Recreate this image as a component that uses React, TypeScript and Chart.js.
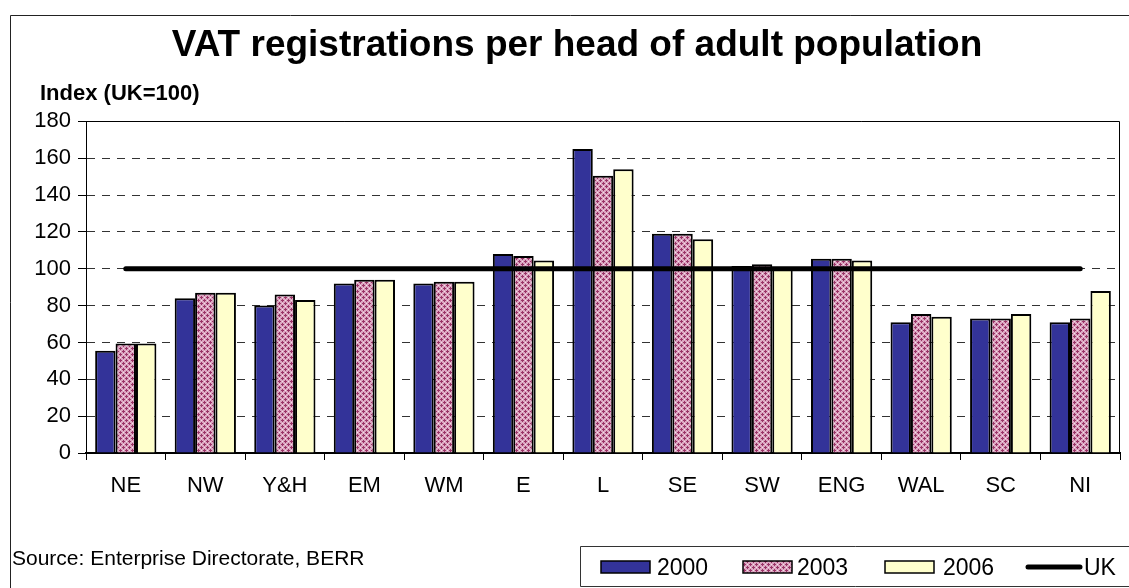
import { useEffect, useRef } from 'react';
import { Chart, registerables } from 'chart.js';

Chart.register(...registerables);

const FONT = "'Liberation Sans', Arial, Helvetica, sans-serif";

const chartTitle = 'VAT registrations per head of adult population';
const axisLabel = 'Index (UK=100)';
const sourceText = 'Source: Enterprise Directorate, BERR';

const categories = ['NE', 'NW', 'Y&H', 'EM', 'WM', 'E', 'L', 'SE', 'SW', 'ENG', 'WAL', 'SC', 'NI'];
const values2000 = [55.5, 84, 80, 92, 92, 108, 165, 119, 101.5, 105.5, 71, 73, 71];
const values2003 = [59.5, 87, 86, 94, 93, 107, 150.5, 119, 102.5, 105.5, 75.5, 73, 73];
const values2006 = [59.5, 87, 83, 94, 93, 104.5, 154, 116, 100, 104.5, 74, 75.5, 88];
const valuesUK = [100, 100, 100, 100, 100, 100, 100, 100, 100, 100, 100, 100, 100];
const seriesLabels = ['2000', '2003', '2006', 'UK'];
const yTickValues = [0, 20, 40, 60, 80, 100, 120, 140, 160, 180];

const COLOR_2000 = '#333399';
const COLOR_2006 = '#FFFFCC';

function makePattern(): CanvasPattern | string {
  const c = document.createElement('canvas');
  c.width = 6;
  c.height = 6;
  const g = c.getContext('2d');
  if (!g) return '#c47aa0';
  g.fillStyle = '#dca6c1';
  g.fillRect(0, 0, 6, 6);
  g.fillStyle = '#f4e2eb';
  g.fillRect(0, 3, 1, 1);
  g.fillRect(3, 0, 1, 1);
  g.fillStyle = '#993366';
  g.fillRect(2, 3, 3, 1);
  g.fillRect(3, 2, 1, 3);
  g.fillRect(0, 0, 1, 1);
  g.fillRect(5, 0, 1, 1);
  g.fillRect(1, 0, 1, 1);
  g.fillRect(0, 5, 1, 1);
  g.fillRect(0, 1, 1, 1);
  return g.createPattern(c, 'repeat') || '#c47aa0';
}

export default function App() {
  const ref = useRef<HTMLCanvasElement | null>(null);

  useEffect(() => {
    const canvas = ref.current;
    if (!canvas) return;
    const pattern = makePattern();
    const fills: any[] = [COLOR_2000, pattern, COLOR_2006];

    const decorPlugin = {
      id: 'decor',
      beforeDatasetsDraw(chart: any) {
        const { ctx, chartArea } = chart;
        const { left, right, top, bottom } = chartArea;
        ctx.save();
        ctx.strokeStyle = '#000';
        ctx.lineWidth = 1;
        ctx.setLineDash([]);
        ctx.beginPath();
        const ty = Math.round(top) + 0.5;
        const rx = Math.round(right) - 0.5;
        ctx.moveTo(left, ty);
        ctx.lineTo(rx, ty);
        ctx.moveTo(rx, ty);
        ctx.lineTo(rx, bottom);
        ctx.stroke();
        ctx.restore();
      },
      afterDraw(chart: any) {
        const ctx = chart.ctx as CanvasRenderingContext2D;
        ctx.save();
        // outer frame
        ctx.strokeStyle = '#222';
        ctx.lineWidth = 1;
        ctx.beginPath();
        ctx.moveTo(10.5, 700);
        ctx.lineTo(10.5, 15.5);
        ctx.lineTo(1200, 15.5);
        ctx.stroke();

        // axis label
        ctx.fillStyle = '#000';
        ctx.textAlign = 'left';
        ctx.textBaseline = 'alphabetic';
        ctx.font = `bold 22px ${FONT}`;
        ctx.fillText(axisLabel, 40, 100);

        // source
        ctx.font = `21px ${FONT}`;
        ctx.fillText(sourceText, 12, 565);

        // legend box
        ctx.strokeStyle = '#333';
        ctx.lineWidth = 1;
        ctx.beginPath();
        ctx.moveTo(1200, 546.5);
        ctx.lineTo(580.5, 546.5);
        ctx.lineTo(580.5, 586.5);
        ctx.lineTo(1200, 586.5);
        ctx.stroke();

        const swatchX = [601, 743, 885];
        const textX = [657, 797, 943, 1084];
        ctx.font = `23px ${FONT}`;
        for (let i = 0; i < 3; i++) {
          ctx.fillStyle = fills[i];
          ctx.fillRect(swatchX[i], 561, 49, 12);
          ctx.strokeStyle = '#000';
          ctx.lineWidth = 1.5;
          ctx.strokeRect(swatchX[i], 561, 49, 12);
          ctx.fillStyle = '#000';
          ctx.fillText(seriesLabels[i], textX[i], 575);
        }
        ctx.strokeStyle = '#000';
        ctx.lineWidth = 5;
        ctx.lineCap = 'round';
        ctx.beginPath();
        ctx.moveTo(1028, 567);
        ctx.lineTo(1080, 567);
        ctx.stroke();
        ctx.fillStyle = '#000';
        ctx.fillText(seriesLabels[3], textX[3], 575);
        ctx.restore();
      },
    };

    const barCommon = {
      borderColor: '#000',
      borderWidth: 2,
      categoryPercentage: 0.77,
      barPercentage: 1.0,
      order: 1,
    };

    const chart = new Chart(canvas, {
      type: 'bar',
      data: {
        labels: categories,
        datasets: [
          { ...barCommon, label: seriesLabels[0], data: values2000, backgroundColor: COLOR_2000 } as any,
          { ...barCommon, label: seriesLabels[1], data: values2003, backgroundColor: pattern } as any,
          { ...barCommon, label: seriesLabels[2], data: values2006, backgroundColor: COLOR_2006 } as any,
          {
            type: 'line',
            label: seriesLabels[3],
            data: valuesUK,
            borderColor: '#000',
            backgroundColor: '#000',
            borderWidth: 5,
            pointRadius: 0,
            borderCapStyle: 'round',
            fill: false,
            order: 0,
          } as any,
        ],
      },
      options: {
        responsive: false,
        animation: false,
        devicePixelRatio: 1,
        layout: { padding: { left: 34, right: 9, top: 0, bottom: 85 } },
        font: { family: FONT },
        plugins: {
          legend: { display: false },
          tooltip: { enabled: false },
          title: {
            display: true,
            text: chartTitle,
            color: '#000',
            font: { family: FONT, size: 37, weight: 'bold' },
            padding: { top: 24, bottom: 53 },
          },
        },
        scales: {
          x: {
            type: 'category',
            offset: true,
            grid: {
              display: true,
              drawOnChartArea: false,
              drawTicks: true,
              tickLength: 7,
              tickColor: '#000',
              tickWidth: 1,
              offset: true,
            },
            border: { display: true, color: '#000', width: 2 },
            ticks: {
              color: '#000',
              font: { family: FONT, size: 22 },
              padding: 13,
              maxRotation: 0,
              autoSkip: false,
            },
            afterFit: (scale: any) => {
              scale.height = 50;
            },
          },
          y: {
            min: 0,
            max: 180,
            grid: {
              color: '#333',
              lineWidth: 1,
              drawTicks: true,
              tickLength: 8,
              tickColor: '#000',
              tickWidth: 1,
              tickBorderDash: [],
            },
            border: { display: true, color: '#000', width: 1, dash: [8, 7] },
            ticks: {
              color: '#000',
              font: { family: FONT, size: 22 },
              padding: 7,
              stepSize: 20,
            },
            afterBuildTicks: (scale: any) => {
              scale.ticks = yTickValues.map((v) => ({ value: v }));
            },
            afterFit: (scale: any) => {
              scale.width = 52;
            },
          },
        },
      } as any,
      plugins: [decorPlugin],
    });

    return () => {
      chart.destroy();
    };
  }, []);

  return (
    <div style={{ position: 'absolute', left: 0, top: 0, width: 1129, height: 588, background: '#fff' }}>
      <canvas ref={ref} width={1129} height={588} style={{ display: 'block', width: 1129, height: 588 }} />
    </div>
  );
}
